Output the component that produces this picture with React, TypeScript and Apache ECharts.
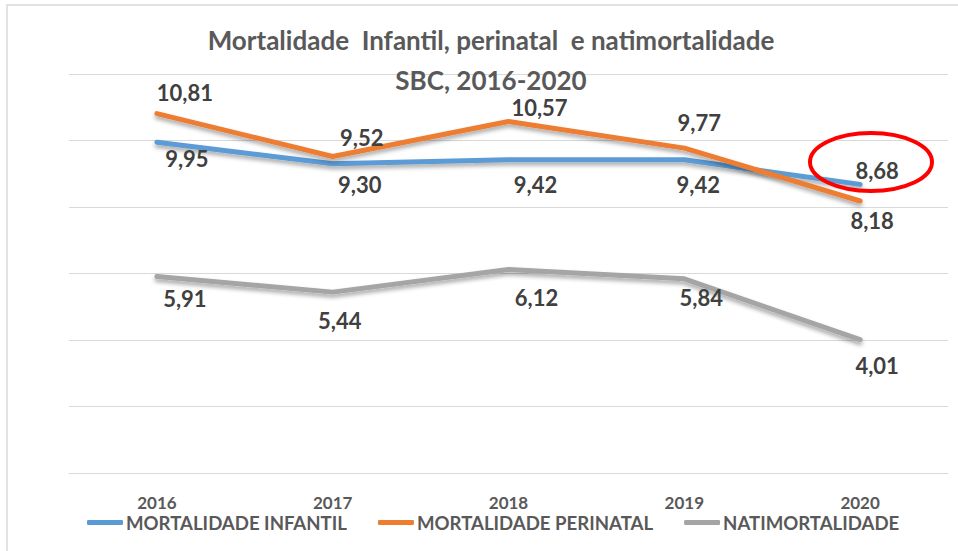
import React, { useEffect, useRef } from "react";
import * as echarts from "echarts";

const categories = ["2016", "2017", "2018", "2019", "2020"];
const infantil = [9.95, 9.3, 9.42, 9.42, 8.68];
const perinatal = [10.81, 9.52, 10.57, 9.77, 8.18];
const natimortalidade = [5.91, 5.44, 6.12, 5.84, 4.01];
const seriesNames = ["MORTALIDADE INFANTIL", "MORTALIDADE PERINATAL", "NATIMORTALIDADE"];

// label offsets (style only)
const offInfantil = [[30, 16], [27, 21], [27, 25], [14, 25], [17, -14]];
const offPerinatal = [[28, -21], [29, -19], [31, -14], [15, -26], [12, 19]];
const offNati = [[28, 22], [7, 28], [28, 28], [17, 19], [17, 26]];

const fmt = (v: number) => v.toFixed(2).replace(".", ",");

export default function App() {
  const ref = useRef<HTMLDivElement>(null);
  useEffect(() => {
    if (!ref.current) return;
    const chart = echarts.init(ref.current, null, { renderer: "svg" });
    const font = "Lato";
    const mk = (name: string, vals: number[], offs: number[][], color: string) => ({
      name,
      type: "line",
      data: vals.map((v, i) => ({
        value: v,
        label: { offset: offs[i] },
      })),
      showSymbol: true,
      symbol: "circle",
      symbolSize: 0,
      lineStyle: {
        color,
        width: 5,
        cap: "round",
        join: "round",
        shadowColor: "rgba(0,0,0,0.35)",
        shadowBlur: 4,
        shadowOffsetY: 3,
      },
      itemStyle: { color },
      label: {
        show: true,
        position: "inside",
        formatter: (p: any) => fmt(p.value),
        fontFamily: font,
        fontWeight: "bold",
        fontSize: 22,
        color: "#404040",
      },
      z: 2,
    });
    chart.setOption({
      animation: false,
      backgroundColor: "#ffffff",
      title: [
        {
          text: "Mortalidade  Infantil, perinatal  e natimortalidade\nSBC, 2016-2020",
          left: 486,
          top: 15,
          textAlign: "center",
          textStyle: {
            fontFamily: font,
            fontWeight: "bold",
            fontSize: 26,
            color: "#595959",
            lineHeight: 40,
          },
        },
      ],
      grid: { left: 69, right: 10, top: 74, bottom: 78 },
      xAxis: {
        type: "category",
        data: categories,
        boundaryGap: true,
        axisLine: { show: true, lineStyle: { color: "#d9d9d9", width: 1 } },
        axisTick: { show: false },
        axisLabel: {
          margin: 21,
          fontFamily: font,
          fontWeight: "bold",
          fontSize: 17,
          color: "#595959",
        },
      },
      yAxis: {
        type: "value",
        min: 0,
        max: 12,
        interval: 2,
        axisLabel: { show: false },
        axisLine: { show: false },
        axisTick: { show: false },
        splitLine: { lineStyle: { color: "#d9d9d9", width: 1 } },
      },
      legend: {
        data: seriesNames,
        left: 87,
        top: 513,
        padding: 0,
        itemGap: 31,
        itemWidth: 36,
        itemHeight: 5,
        icon: "roundRect",
        textStyle: {
          fontFamily: font,
          fontWeight: "bold",
          fontSize: 18.6,
          color: "#595959",
          padding: [0, 0, 0, -2],
        },
      },
      series: [
        mk(seriesNames[0], infantil, offInfantil, "#5b9bd5"),
        mk(seriesNames[1], perinatal, offPerinatal, "#ed7d31"),
        mk(seriesNames[2], natimortalidade, offNati, "#a5a5a5"),
      ],
      graphic: [
        {
          type: "rect",
          shape: { x: 7, y: 5, width: 1000, height: 600 },
          style: { fill: "none", stroke: "#d9d9d9", lineWidth: 1.5 },
          silent: true,
          z: -1,
        },
        {
          type: "ellipse",
          shape: { cx: 871, cy: 162, rx: 61, ry: 29 },
          style: { fill: "none", stroke: "#ff0000", lineWidth: 4 },
          z: 100,
        },
      ],
    });
    return () => chart.dispose();
  }, []);
  return (
    <div
      ref={ref}
      style={{ position: "absolute", left: 0, top: 0, width: 958, height: 551 }}
    />
  );
}
